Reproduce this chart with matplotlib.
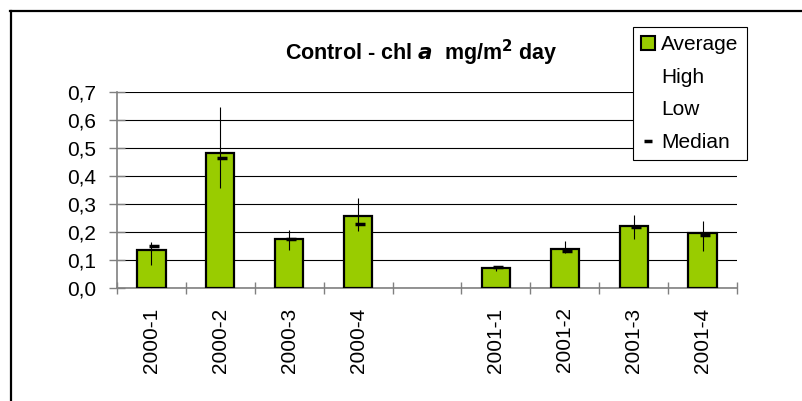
import matplotlib.pyplot as plt
import numpy as np
from matplotlib.lines import Line2D
from matplotlib.patches import Patch

plt.rcParams['font.family'] = ['Liberation Sans', 'DejaVu Sans']

# one empty slot between the two years, as in the original sheet
categories = ['2000-1', '2000-2', '2000-3', '2000-4', '',
              '2001-1', '2001-2', '2001-3', '2001-4']
average = [0.136, 0.482, 0.175, 0.257, None, 0.071, 0.139, 0.221, 0.196]
high = [0.164, 0.646, 0.207, 0.320, None, 0.078, 0.168, 0.261, 0.239]
low = [0.082, 0.357, 0.136, 0.204, None, 0.061, 0.125, 0.175, 0.132]
median = [0.150, 0.464, 0.175, 0.229, None, 0.075, 0.132, 0.218, 0.189]

green = '#99CC00'
grey = '#808080'

fig = plt.figure(figsize=(8.02, 4.01), dpi=100)
ax = fig.add_axes([117 / 802, 1 - 288 / 401, 620 / 802, 196 / 401])

idx = [i for i, v in enumerate(average) if v is not None]
xs = np.array(idx)
avg = np.array([average[i] for i in idx])
hi = np.array([high[i] for i in idx])
lo = np.array([low[i] for i in idx])
med = np.array([median[i] for i in idx])

ax.bar(xs, avg, width=0.41, color=green, edgecolor='black', linewidth=1.6, zorder=3)
ax.vlines(xs, lo, hi, color='black', linewidth=0.8, zorder=4)
ax.plot(xs + 0.03, med, linestyle='none', marker='_', markersize=7,
        markeredgewidth=2.5, color='black', zorder=5)

ax.set_xlim(-0.5, len(categories) - 0.5)
ax.set_ylim(0, 0.7)
ax.set_yticks(np.arange(0, 0.71, 0.1))
ax.set_yticklabels([f'{v:.1f}'.replace('.', ',') for v in np.arange(0, 0.71, 0.1)])
ax.yaxis.grid(True, color='black', linewidth=0.8, zorder=0)
ax.set_axisbelow(True)

ax.set_xticks(range(len(categories)))
ax.set_xticklabels(categories, rotation=90)
ax.set_xticks(np.arange(-0.5, len(categories)), minor=True)
ax.tick_params(axis='x', which='major', length=0, pad=14, labelsize=15)
ax.tick_params(axis='x', which='minor', direction='inout', length=8,
               color=grey, width=1)
ax.tick_params(axis='y', direction='inout', length=12, color=grey, width=1,
               pad=9, labelsize=15)

for s in ['top', 'right']:
    ax.spines[s].set_visible(False)
for s in ['left', 'bottom']:
    ax.spines[s].set_color(grey)
    ax.spines[s].set_linewidth(1.2)

fig.text(421 / 802, 1 - 53 / 401,
         r'Control - chl $\mathbfit{a}$  mg/m$^{\mathbf{2}}$ day',
         ha='center', va='center', fontsize=15.5, fontweight='bold')

handles = [Patch(facecolor=green, edgecolor='black', linewidth=1.5),
           Line2D([], [], linestyle='none'),
           Line2D([], [], linestyle='none'),
           Line2D([], [], linestyle='none', marker='_', markersize=6,
                  markeredgewidth=2.5, color='black')]
leg = fig.legend(handles, ['Average', 'High', 'Low', 'Median'],
                 loc='upper left', bbox_to_anchor=(633 / 802, 1 - 27 / 401),
                 fontsize=15, frameon=True, fancybox=False, framealpha=1,
                 borderaxespad=0,
                 handlelength=0.65, handleheight=0.65, handletextpad=0.3,
                 labelspacing=0.65, borderpad=0.4)
leg.get_frame().set_edgecolor('black')
leg.get_frame().set_linewidth(0.8)

# outer chart frame (top and left edges visible in the picture)
fig.add_artist(Line2D([10 / 802, 1], [1 - 11 / 401, 1 - 11 / 401],
                      color='black', linewidth=1.6, transform=fig.transFigure))
fig.add_artist(Line2D([11 / 802, 11 / 802], [0, 1 - 11 / 401],
                      color='black', linewidth=1.6, transform=fig.transFigure))

fig.savefig('out.png', dpi=100)
